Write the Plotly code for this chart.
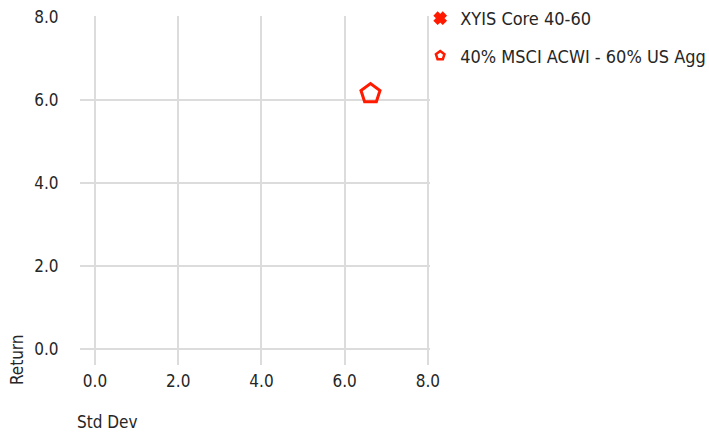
import plotly.graph_objects as go

series_names = ["XYIS Core 40-60", "40% MSCI ACWI - 60% US Agg"]
series_symbols = ["x", "pentagon-open"]
std_dev = [[None], [6.62]]
returns = [[None], [6.15]]
x_ticks = [0, 2, 4, 6, 8]
y_ticks = [0, 2, 4, 6, 8]

FONT = "DejaVu Sans Condensed"
RED = "#ff1a00"
TXT = "#262626"

fig = go.Figure()
for i, name in enumerate(series_names):
    # data marks
    fig.add_trace(go.Scatter(
        x=std_dev[i], y=returns[i], mode="markers", name=name,
        legendgroup=name, showlegend=False,
        marker=dict(symbol=series_symbols[i], color=RED, size=20,
                    line=dict(width=3, color=RED)),
    ))
    # legend entry (small symbol like the reference)
    fig.add_trace(go.Scatter(
        x=[None], y=[None], mode="markers", name=name,
        legendgroup=name, showlegend=True,
        marker=dict(symbol=series_symbols[i], color=RED, size=9,
                    line=dict(width=2.5, color=RED)),
    ))

fig.update_layout(
    width=709, height=435,
    margin=dict(l=80, r=279, t=16, b=70, autoexpand=False),
    paper_bgcolor="white", plot_bgcolor="white",
    font=dict(family=FONT, size=17, color=TXT),
    showlegend=True,
    legend=dict(x=0.972, xanchor="left", y=1.018, yanchor="top", yref="container",
                font=dict(size=18, color=TXT), tracegroupgap=11,
                itemsizing="trace", bgcolor="rgba(0,0,0,0)"),
    xaxis=dict(range=[-0.36, 8.05], tickvals=x_ticks, ticktext=[f"{v:.1f}" for v in x_ticks],
               showgrid=True, gridcolor="#dcdcdc", gridwidth=2, zeroline=False, automargin=False,
               showline=False, ticks="outside", ticklen=1, tickcolor="rgba(0,0,0,0)"),
    yaxis=dict(range=[-0.385, 8.02], tickvals=y_ticks, ticktext=[f"{v:.1f}" for v in y_ticks],
               showgrid=True, gridcolor="#dcdcdc", gridwidth=2, zeroline=False, automargin=False,
               showline=False, ticks="outside", ticklen=17, tickcolor="rgba(0,0,0,0)"),
    annotations=[
        dict(text="Return", xref="paper", yref="paper", x=-0.18, y=0.014,
             xanchor="center", yanchor="middle", textangle=-90, showarrow=False,
             font=dict(size=17, color=TXT)),
        dict(text="Std Dev", xref="paper", yref="paper", x=-0.014, y=-0.163,
             xanchor="left", yanchor="middle", showarrow=False,
             font=dict(size=17, color=TXT)),
    ],
)

fig.write_html("out.html", config={"displayModeBar": False},
               post_script="document.body.style.margin='0px';")
